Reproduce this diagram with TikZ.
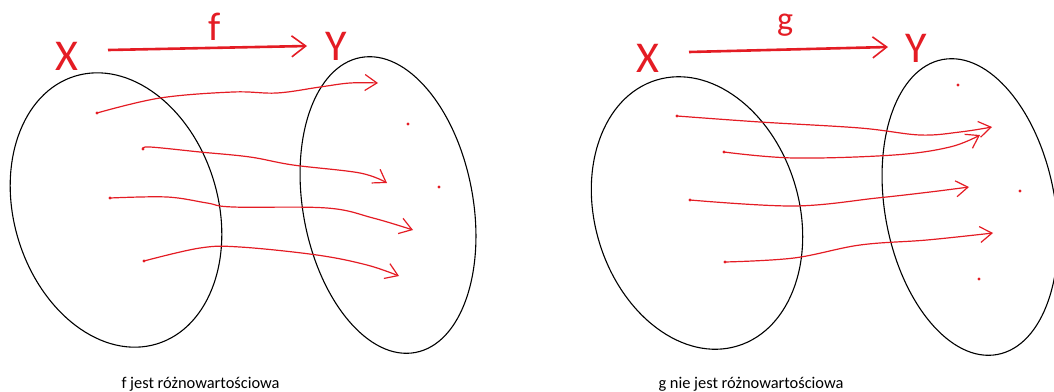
\documentclass[tikz,border=0pt]{standalone}
\usepackage{fontspec}
\setmainfont{Carlito}
\usetikzlibrary{arrows.meta}
\definecolor{pen red}{RGB}{228,28,36}

\begin{document}
\begin{tikzpicture}[x=1pt, y=-1pt,
    zbior/.style={black, line width=1.1pt},
    strzalka/.style={pen red, line width=1.2pt, -{Straight Barb[length=12pt, width=16pt]}},
    glowna/.style={pen red, line width=2.6pt, -{Straight Barb[length=14pt, width=21pt, line width=1.6pt]}},
    kropka/.style={circle, fill=pen red, inner sep=0pt, minimum size=3.2pt},
    litera/.style={pen red, anchor=base, font=\fontsize{44}{44}\selectfont},
    podpis/.style={anchor=base west, font=\fontsize{16.4}{19}\selectfont}]
  \useasboundingbox (0,0) rectangle (1054,391);

  % funkcja f
  \draw[zbior, shift={(116,210)}, rotate=17] (0,0) ellipse [x radius=102, y radius=140];
  \draw[zbior, shift={(388,205)}, rotate=10.5] (0,0) ellipse [x radius=85, y radius=150];
  \node[litera] (fX) at (67,70) {X};
  \node[litera] (fY) at (336,60) {Y};
  \node[litera, font=\fontsize{40}{40}\selectfont] (fname) at (215,40) {f};
  \coordinate (fs) at (108,50);
  \coordinate (fe) at (307,46);
  \draw[glowna] (fs) -- (fe);

  \node[kropka] (fx1) at (97,113) {};
  \node[kropka] (fx2) at (143,149) {};
  \node[kropka] (fx3) at (110,198) {};
  \node[kropka] (fx4) at (144,261) {};
  \node[kropka] (fy5) at (408,124) {};
  \node[kropka] (fy6) at (439,187) {};
  \coordinate (fy1) at (378,83);
  \coordinate (fy2) at (387,183);
  \coordinate (fy3) at (413,230);
  \coordinate (fy4) at (399,276);
  \draw[strzalka] plot[smooth, tension=0.6] coordinates {(fx1.center) (160,98) (233,92) (277,93) (320,87) (350,83) (fy1)};
  \draw[strzalka] plot[smooth, tension=0.6] coordinates {(fx2.center) (150,147) (200,152) (250,157) (293,165) (360,173) (fy2)};
  \draw[strzalka] plot[smooth, tension=0.6] coordinates {(fx3.center) (167,197) (207,203) (233,207) (327,208) (373,218) (fy3)};
  \draw[strzalka] plot[smooth, tension=0.6] coordinates {(fx4.center) (200,248) (240,247) (317,255) (367,265) (fy4)};
  \node[podpis] (fopis) at (118,388) {f jest różnowartościowa};

  % funkcja g
  \draw[zbior, shift={(697,213)}, rotate=17] (0,0) ellipse [x radius=102, y radius=139];
  \draw[zbior, shift={(970,207)}, rotate=10.5] (0,0) ellipse [x radius=85, y radius=150];
  \node[litera] (gX) at (648,72) {X};
  \node[litera] (gY) at (916,62) {Y};
  \node[litera, font=\fontsize{34}{34}\selectfont] (gname) at (785,30) {g};
  \coordinate (gs) at (689,52);
  \coordinate (ge) at (888,47);
  \draw[glowna] (gs) -- (ge);

  \node[kropka] (gx1) at (677,116) {};
  \node[kropka] (gx2) at (724,152) {};
  \node[kropka] (gx3) at (690,200) {};
  \node[kropka] (gx4) at (725,262) {};
  \node[kropka] (gy5) at (958,85) {};
  \node[kropka] (gy6) at (1020,191) {};
  \node[kropka] (gy7) at (979,279) {};
  \coordinate (gy1) at (992,127);
  \coordinate (gy2) at (980,135);
  \coordinate (gy3) at (969,187);
  \coordinate (gy4) at (993,233);
  \draw[strzalka] plot[smooth, tension=0.6] coordinates {(gx1.center) (760,122) (860,128) (920,135) (960,132) (gy1)};
  \draw[strzalka] plot[smooth, tension=0.6] coordinates {(gx2.center) (794,158) (894,155) (950,147) (gy2)};
  \draw[strzalka] plot[smooth, tension=0.6] coordinates {(gx3.center) (794,206) (877,198) (930,192) (gy3)};
  \draw[strzalka] plot[smooth, tension=0.6] coordinates {(gx4.center) (794,258) (860,245) (927,240) (gy4)};
  \node[podpis] (gopis) at (655,388) {g nie jest różnowartościowa};
\end{tikzpicture}
\end{document}
